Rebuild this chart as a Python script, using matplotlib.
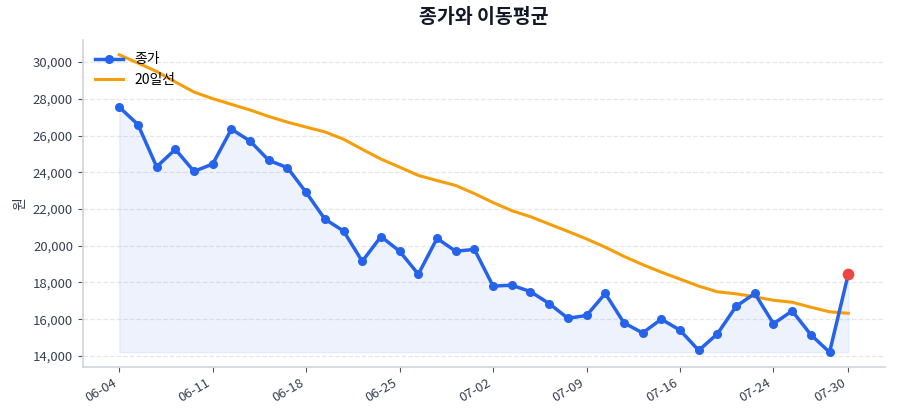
import matplotlib
matplotlib.use("Agg")
import matplotlib.pyplot as plt
from matplotlib.ticker import FuncFormatter
import numpy as np

plt.rcParams['font.family'] = ['Noto Sans CJK KR', 'DejaVu Sans']

dates = ["06-04", "06-05", "06-06", "06-07", "06-10", "06-11", "06-12", "06-13", "06-14", "06-17",
         "06-18", "06-19", "06-20", "06-21", "06-24", "06-25", "06-26", "06-27", "06-28", "07-01",
         "07-02", "07-03", "07-04", "07-05", "07-08", "07-09", "07-10", "07-11", "07-12", "07-15",
         "07-16", "07-18", "07-19", "07-22", "07-23", "07-24", "07-25", "07-26", "07-29", "07-30"]

close = [27550, 26600, 24300, 25250, 24050, 24450, 26350, 25700, 24650, 24250,
         22900, 21450, 20800, 19150, 20500, 19700, 18450, 20400, 19700, 19800,
         17800, 17850, 17500, 16850, 16050, 16200, 17400, 15800, 15250, 16000,
         15400, 14300, 15200, 16700, 17400, 15750, 16450, 15150, 14200, 18450]

ma20 = [30400, 29950, 29490, 28920, 28370, 28010, 27700, 27390, 27040, 26730,
        26460, 26200, 25800, 25250, 24720, 24280, 23830, 23550, 23280, 22840,
        22350, 21910, 21580, 21180, 20780, 20370, 19920, 19420, 18970, 18560,
        18180, 17800, 17490, 17380, 17220, 17030, 16920, 16650, 16400, 16320]

tick_idx = [0, 5, 10, 15, 20, 25, 30, 35, 39]

x = np.arange(len(dates))
fig, ax = plt.subplots(figsize=(9, 4.2), dpi=100)

ax.fill_between(x, close, min(close), color='#2563eb', alpha=0.08, linewidth=1)
ax.plot(x, close, color='#2563eb', linewidth=2.5, marker='o', markersize=5.5, label='종가', zorder=3)
ax.plot(x, ma20, color='#f59e0b', linewidth=2.2, label='20일선', zorder=2)
ax.scatter([x[-1]], [close[-1]], s=55, color='#ef4444', zorder=5)

ax.set_xticks(tick_idx)
ax.set_xticklabels([dates[i] for i in tick_idx], rotation=30, ha='right')
ax.yaxis.set_major_formatter(FuncFormatter(lambda v, p: f"{int(v):,}"))
ax.set_ylabel('원', color='#374151', fontsize=10)
ax.set_title('종가와 이동평균', fontsize=14, fontweight='bold', color='#111827', pad=12)

ax.grid(axis='y', linestyle='--', color='#e5e7eb', linewidth=0.9)
ax.set_axisbelow(True)
for s in ['top', 'right']:
    ax.spines[s].set_visible(False)
for s in ['left', 'bottom']:
    ax.spines[s].set_color('#d1d5db')
    ax.spines[s].set_linewidth(1.2)
ax.tick_params(axis='both', colors='#4b5563', labelsize=9.5, labelcolor='#374151')

leg = ax.legend(loc='upper left', frameon=False, fontsize=10, borderaxespad=0.5)

fig.subplots_adjust(left=0.092, right=0.983, top=0.905, bottom=0.126)
fig.savefig('out.png', dpi=100)
